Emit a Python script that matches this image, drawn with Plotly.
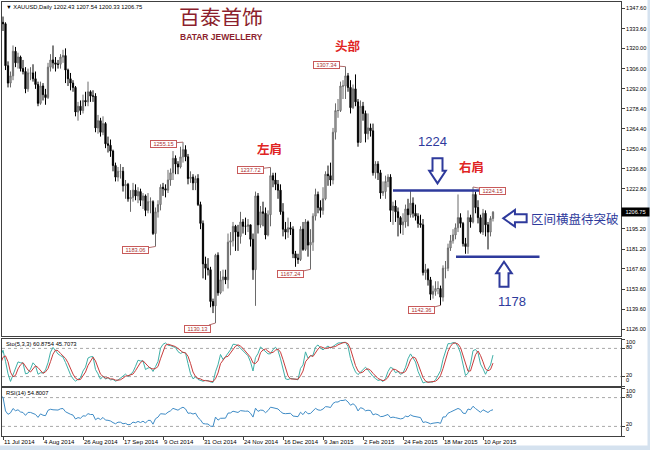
import numpy as np
import pandas as pd
import plotly.graph_objects as go

# ---------------- data ----------------
holidays = ["2014-12-25", "2015-01-01", "2015-04-03"]
all_days = pd.bdate_range("2014-06-02", "2015-04-16")
dates = [d for d in all_days if d.strftime("%Y-%m-%d") not in holidays]
N_PRE = 29  # bars before 11 Jul 2014 (indicator warm-up, off screen)

opens = [
    1250, 1244, 1244, 1244, 1252, 1252, 1253, 1260, 1261, 1274,
    1274, 1272, 1271, 1275, 1315, 1316, 1317, 1320, 1322, 1316,
    1317, 1327, 1326, 1326, 1320, 1319, 1317, 1317, 1325,
    1338, 1337, 1308, 1296, 1301, 1318, 1310, 1314, 1306, 1304,
    1292, 1303, 1303, 1299, 1295, 1282, 1294, 1288, 1286, 1307,
    1312, 1310, 1309, 1309, 1314, 1315, 1305, 1299, 1296, 1293,
    1276, 1280, 1277, 1284, 1283, 1290, 1287, 1287, 1265, 1270,
    1262, 1268, 1254, 1253, 1249, 1239, 1231, 1235, 1235, 1225,
    1226, 1216, 1217, 1222, 1218, 1221, 1215, 1218, 1208, 1214,
    1214, 1192, 1207, 1212, 1224, 1223, 1222, 1229, 1234, 1244,
    1240, 1238, 1245, 1250, 1245, 1230, 1231, 1227, 1230, 1212,
    1199, 1171, 1168, 1167, 1145, 1142, 1177, 1151, 1160, 1162,
    1160, 1186, 1187, 1197, 1193, 1190, 1200, 1197, 1197, 1198,
    1188, 1167, 1218, 1198, 1207, 1206, 1191, 1205, 1232, 1229,
    1226, 1222, 1207, 1195, 1193, 1196, 1195, 1178, 1175, 1174,
    1195, 1181, 1200, 1184, 1186, 1204, 1219, 1210, 1208, 1216,
    1233, 1232, 1229, 1262, 1277, 1277, 1294, 1294, 1301, 1293,
    1279, 1292, 1283, 1255, 1280, 1275, 1261, 1265, 1263, 1234,
    1240, 1234, 1220, 1221, 1228, 1231, 1208, 1211, 1207, 1203,
    1198, 1200, 1209, 1205, 1213, 1206, 1204, 1199, 1198, 1165,
    1167, 1160, 1150, 1152, 1154, 1154, 1148, 1168, 1168, 1182,
    1187, 1191, 1196, 1203, 1199, 1185, 1183, 1203, 1200, 1219,
    1210, 1203, 1193, 1206, 1198, 1193, 1202.43,
]
highs = [
    1253, 1248, 1248, 1256, 1256, 1256, 1264, 1265, 1275, 1280,
    1285, 1275, 1279, 1321, 1323, 1325, 1325, 1324, 1323, 1321,
    1328, 1332, 1331, 1332, 1322, 1324, 1324, 1327, 1345,
    1342, 1338, 1311, 1304, 1322, 1321, 1317, 1315, 1312, 1307,
    1306, 1307, 1309, 1304, 1297, 1297, 1296, 1292, 1310, 1316,
    1322, 1314, 1312, 1316, 1319, 1320, 1306, 1303, 1298, 1294,
    1283, 1284, 1288, 1290, 1297, 1291, 1291, 1289, 1274, 1272,
    1273, 1269, 1259, 1257, 1250, 1241, 1238, 1240, 1238, 1229,
    1227, 1222, 1227, 1226, 1224, 1223, 1220, 1219, 1220, 1217,
    1215, 1210, 1215, 1226, 1227, 1226, 1236, 1237, 1249, 1246,
    1242, 1252, 1255.15, 1253, 1247, 1235, 1233, 1232, 1233, 1214,
    1201, 1176, 1175, 1169, 1147, 1178, 1179, 1166, 1167, 1167,
    1192, 1193, 1200, 1198, 1198, 1207, 1202, 1203, 1202, 1198,
    1192, 1221, 1220, 1211, 1214, 1210, 1208, 1237.72, 1234, 1234,
    1229, 1226, 1213, 1200, 1203, 1200, 1197, 1180, 1178, 1197,
    1200, 1202, 1201, 1195, 1206, 1223, 1221, 1215, 1224, 1235,
    1239, 1241, 1265, 1282, 1285, 1297, 1298, 1307.34, 1303, 1298,
    1295, 1302, 1285, 1284, 1283, 1277, 1275, 1268, 1268, 1242,
    1242, 1236, 1228, 1232, 1233, 1233, 1214, 1215, 1210, 1204,
    1206, 1212, 1216, 1222, 1217, 1212, 1206, 1205, 1202, 1171,
    1168, 1162, 1156, 1159, 1159, 1156, 1170, 1173, 1185, 1191,
    1195, 1199, 1219, 1206, 1200, 1189, 1208, 1205, 1224.15, 1221,
    1215, 1205, 1209, 1208, 1200, 1204, 1207.54,
]
lows = [
    1241, 1240, 1240, 1240, 1247, 1248, 1251, 1257, 1259, 1270,
    1269, 1258, 1260, 1273, 1310, 1312, 1311, 1312, 1310, 1312,
    1313, 1321, 1323, 1311, 1316, 1310, 1312, 1315, 1320,
    1332, 1305, 1293, 1293, 1298, 1307, 1306, 1304, 1302, 1289,
    1290, 1298, 1297, 1292, 1280, 1281, 1284, 1281, 1285, 1304,
    1306, 1304, 1306, 1306, 1310, 1296, 1294, 1291, 1290, 1273,
    1270, 1274, 1275, 1280, 1280, 1283, 1283, 1262, 1261, 1259,
    1260, 1251, 1248, 1245, 1235, 1228, 1228, 1230, 1221, 1216,
    1214, 1207, 1214, 1215, 1213, 1211, 1209, 1204, 1206, 1206,
    1191, 1183.06, 1203, 1208, 1218, 1217, 1220, 1225, 1229, 1233,
    1233, 1237, 1241, 1242, 1226, 1227, 1222, 1222, 1211, 1195,
    1161, 1160, 1163, 1141, 1137, 1130.13, 1149, 1150, 1152, 1157,
    1154, 1177, 1183, 1180, 1180, 1185, 1192, 1191, 1193, 1183,
    1160, 1142, 1192, 1196, 1197, 1188, 1190, 1197, 1224, 1222,
    1216, 1205, 1190, 1188, 1189, 1191, 1175, 1169, 1171, 1173,
    1180, 1180, 1176, 1167.24, 1180, 1201, 1206, 1203, 1205, 1215,
    1225, 1225, 1226, 1257, 1272, 1276, 1285, 1285, 1290, 1275,
    1278, 1280, 1252, 1255, 1270, 1255, 1257, 1259, 1232, 1230,
    1229, 1216, 1218, 1216, 1224, 1200, 1198, 1200, 1190, 1192,
    1191, 1196, 1197, 1203, 1203, 1201, 1196, 1196, 1163, 1160,
    1156, 1146, 1147, 1149, 1150, 1142.36, 1145, 1161, 1166, 1180,
    1185, 1188, 1193, 1196, 1183, 1178, 1178, 1196, 1199, 1206,
    1199, 1192, 1191, 1190, 1181, 1190, 1200.33,
]
closes = [
    1244, 1244, 1244, 1252, 1252, 1253, 1260, 1261, 1274, 1274,
    1272, 1271, 1275, 1315, 1316, 1317, 1320, 1322, 1316, 1317,
    1327, 1326, 1326, 1320, 1319, 1317, 1317, 1325, 1338,
    1337, 1308, 1296, 1301, 1318, 1310, 1314, 1306, 1304, 1292,
    1303, 1303, 1299, 1295, 1282, 1294, 1288, 1286, 1307, 1312,
    1310, 1309, 1309, 1314, 1315, 1305, 1299, 1296, 1293, 1276,
    1280, 1277, 1284, 1283, 1290, 1287, 1287, 1265, 1270, 1262,
    1268, 1254, 1253, 1249, 1239, 1231, 1235, 1235, 1225, 1226,
    1216, 1217, 1222, 1218, 1221, 1215, 1218, 1208, 1214, 1214,
    1192, 1207, 1212, 1224, 1223, 1222, 1229, 1234, 1244, 1240,
    1238, 1245, 1250, 1245, 1230, 1231, 1227, 1230, 1212, 1199,
    1171, 1168, 1167, 1145, 1142, 1177, 1151, 1160, 1162, 1160,
    1186, 1187, 1197, 1193, 1190, 1200, 1197, 1197, 1198, 1188,
    1167, 1218, 1198, 1207, 1206, 1191, 1205, 1232, 1229, 1226,
    1222, 1207, 1195, 1193, 1196, 1195, 1178, 1175, 1174, 1195,
    1181, 1200, 1184, 1186, 1204, 1219, 1210, 1208, 1216, 1233,
    1232, 1229, 1262, 1277, 1277, 1294, 1294, 1301, 1293, 1279,
    1292, 1283, 1255, 1280, 1275, 1261, 1265, 1263, 1234, 1240,
    1234, 1220, 1221, 1228, 1231, 1208, 1211, 1207, 1203, 1198,
    1200, 1209, 1205, 1213, 1206, 1204, 1199, 1198, 1165, 1167,
    1160, 1150, 1152, 1154, 1154, 1148, 1168, 1168, 1182, 1187,
    1191, 1196, 1203, 1199, 1185, 1183, 1203, 1200, 1219, 1210,
    1203, 1193, 1206, 1198, 1193, 1202.43, 1206.75,
]
assert len(opens) == len(highs) == len(lows) == len(closes) == len(dates), (
    len(opens), len(highs), len(lows), len(closes), len(dates))

date_ticks = ["11 Jul 2014", "4 Aug 2014", "26 Aug 2014", "17 Sep 2014", "9 Oct 2014",
              "31 Oct 2014", "24 Nov 2014", "16 Dec 2014", "9 Jan 2015", "2 Feb 2015",
              "24 Feb 2015", "18 Mar 2015", "10 Apr 2015"]
price_ticks = [1347.60, 1333.60, 1320.00, 1306.00, 1292.00, 1278.40, 1264.40, 1250.40,
               1236.80, 1222.80, 1209.20, 1195.20, 1181.20, 1167.60, 1153.60, 1139.60, 1126.00]

# price labels: (date, price)
price_labels = [("2014-10-21", 1255.15), ("2014-10-06", 1183.06), ("2014-11-07", 1130.13),
                ("2014-12-09", 1237.72), ("2015-01-02", 1167.24), ("2015-01-22", 1307.34),
                ("2015-03-17", 1142.36), ("2015-04-06", 1224.15)]
label_offsets = [(-20, 1.5), (-20, 3.5), (-18, 5.5), (-20, 2.5), (-20, 4.5), (-19.5, -1.5),
                 (-19, 5), (19.5, 3.5)]

header = "▼ XAUUSD,Daily 1202.43 1207.54 1200.33 1206.75"
sto_title = "Sto(5,3,3) 60.8754 45.7073"
rsi_title = "RSI(14) 54.8007"
last_price = 1206.75
resistance_line = 1221.7
support_line = 1176.0

# ---------------- indicators ----------------
df = pd.DataFrame({"o": opens, "h": highs, "l": lows, "c": closes})
hh = df["h"].rolling(5).max()
ll = df["l"].rolling(5).min()
sto_k = 100 * (df["c"] - ll).rolling(3).sum() / (hh - ll).rolling(3).sum()
sto_d = sto_k.rolling(3).mean()
delta = df["c"].diff()
gain = delta.clip(lower=0)
loss = (-delta).clip(lower=0)
ag = gain.ewm(alpha=1 / 14, adjust=False).mean()
al = loss.ewm(alpha=1 / 14, adjust=False).mean()
rsi = 100 - 100 / (1 + ag / al)

xs = np.arange(len(dates)) - N_PRE
date_str = [d.strftime("%Y-%m-%d") for d in dates]
def pos_of(dstr):
    return date_str.index(dstr) - N_PRE

tick_pos = [pos_of(pd.to_datetime(t).strftime("%Y-%m-%d")) for t in date_ticks]
# the 1209.20 label sits under the current-price box
tick_text = ["" if abs(v - 1209.20) < 1e-6 else f"{v:.2f}" for v in price_ticks]

# ---------------- layout geometry ----------------
W, H = 650, 450
ML, MR, MT, MB = 2, 29, 2, 14
PW, PH = W - ML - MR, H - MT - MB
XR = [-0.4, 247.2]
YR = [1121.16, 1352.05]
def py(px):  # pixel y -> paper
    return (H - MB - px) / PH
dom_main = [py(336), 1.0]
dom_sto = [py(386), py(339)]
dom_rsi = [0.0, py(388)]
ppx = PW / (XR[1] - XR[0])
ppy = PH * (dom_main[1] - dom_main[0]) / (YR[1] - YR[0])

FONT = "Liberation Sans, Arial, sans-serif"
BLUE = "#2e3a9c"
RED = "#e02424"

fig = go.Figure()
fig.add_trace(go.Candlestick(
    x=xs, open=opens, high=highs, low=lows, close=closes,
    increasing=dict(line=dict(color="#6a6a6a", width=1), fillcolor="#c4c4c4"),
    decreasing=dict(line=dict(color="#000000", width=1), fillcolor="#000000"),
    whiskerwidth=0, showlegend=False, hoverinfo="skip", xaxis="x", yaxis="y"))
fig.add_trace(go.Scatter(x=xs, y=sto_k, mode="lines", line=dict(color="#3fb0a8", width=1),
                         xaxis="x2", yaxis="y2", showlegend=False, hoverinfo="skip"))
fig.add_trace(go.Scatter(x=xs, y=sto_d, mode="lines", line=dict(color="#c83c3c", width=1),
                         xaxis="x2", yaxis="y2", showlegend=False, hoverinfo="skip"))
fig.add_trace(go.Scatter(x=xs, y=rsi, mode="lines", line=dict(color="#3f8cc6", width=1),
                         xaxis="x3", yaxis="y3", showlegend=False, hoverinfo="skip"))

axis_common = dict(showline=True, mirror=True, linecolor="#404040", linewidth=1,
                   showgrid=False, zeroline=False, automargin=False)
fig.update_layout(
    width=W, height=H, margin=dict(l=ML, r=MR, t=MT, b=MB),
    paper_bgcolor="white", plot_bgcolor="white",
    font=dict(family=FONT, size=6, color="black"),
    xaxis=dict(domain=[0, 1], range=XR, anchor="y", showticklabels=False, ticks="",
               rangeslider=dict(visible=False), **axis_common),
    yaxis=dict(domain=dom_main, range=YR, side="right", anchor="x",
               tickvals=price_ticks, ticktext=tick_text,
               ticks="outside", ticklen=3, tickcolor="#404040",
               tickfont=dict(size=5.6, family=FONT), **axis_common),
    xaxis2=dict(domain=[0, 1], range=XR, anchor="y2", showticklabels=False, ticks="",
                **axis_common),
    yaxis2=dict(domain=dom_sto, range=[0, 100], side="right", anchor="x2",
                tickvals=[0, 20, 80, 100], showticklabels=False, ticks="outside",
                ticklen=3, tickcolor="#404040", **axis_common),
    xaxis3=dict(domain=[0, 1], range=XR, anchor="y3", tickvals=tick_pos,
                ticktext=date_ticks, ticks="outside", ticklen=3, tickcolor="#404040",
                ticklabelposition="outside right", tickangle=0,
                tickfont=dict(size=6, family=FONT), **axis_common),
    yaxis3=dict(domain=dom_rsi, range=[0, 100], side="right", anchor="x3",
                tickvals=[0, 20, 80, 100], showticklabels=False, ticks="outside",
                ticklen=3, tickcolor="#404040", **axis_common),
)

shapes = []
for lvl in (20, 80):
    for xr, yr in (("x2", "y2"), ("x3", "y3")):
        shapes.append(dict(type="line", xref=f"{xr} domain", yref=yr, x0=0, x1=1, y0=lvl, y1=lvl,
                           line=dict(color="#a8a8a8", width=1, dash="dot"), layer="below"))
# hand-drawn range lines
shapes.append(dict(type="line", xref="x", yref="y", x0=156, x1=192, y0=resistance_line,
                   y1=resistance_line, line=dict(color=BLUE, width=2.5)))
shapes.append(dict(type="line", xref="x", yref="y", x0=181.2, x1=214.6, y0=support_line,
                   y1=support_line, line=dict(color=BLUE, width=2.5)))

def arrow_path(tip_x, tip_y, direction, head_len, head_half, shaft_len, shaft_half):
    pts = [(0, 0), (head_len, head_half), (head_len, shaft_half),
           (head_len + shaft_len, shaft_half), (head_len + shaft_len, -shaft_half),
           (head_len, -shaft_half), (head_len, -head_half)]
    d = {"down": (0, 1), "up": (0, -1), "left": (-1, 0)}[direction]
    n = (-d[1], d[0])
    out = []
    for a, p in pts:
        sx = -a * d[0] + p * n[0]
        sy = -a * d[1] + p * n[1]
        out.append((tip_x + sx / ppx, tip_y - sy / ppy))
    return "M " + " L ".join(f"{x:.3f},{y:.3f}" for x, y in out) + " Z"

for tip, dirn, dims in (((173.8, 1226.7), "down", (12.6, 8.3, 12.4, 5)),
                        ((200.4, 1172.5), "up", (11.6, 7.8, 13.4, 4.5)),
                        ((200.1, 1202.5), "left", (11.7, 8.3, 11.7, 4))):
    shapes.append(dict(type="path", xref="x", yref="y",
                       path=arrow_path(tip[0], tip[1], dirn, *dims),
                       line=dict(color=BLUE, width=2), fillcolor="white"))
# light frame strips
shapes.append(dict(type="rect", xref="paper", yref="paper", x0=-0.01, x1=1.06,
                   y0=py(445.5), y1=py(452), fillcolor="#d5e2ef", line=dict(width=0)))
shapes.append(dict(type="rect", xref="paper", yref="paper", x0=(647.5 - ML) / PW, x1=(652 - ML) / PW,
                   y0=py(452), y1=py(-2), fillcolor="#d5e2ef", line=dict(width=0)))

ann = []
for (d, p), (ax, ay) in zip(price_labels, label_offsets):
    ann.append(dict(x=pos_of(d), y=p, xref="x", yref="y", text=f"{p:.2f}",
                    showarrow=True, arrowhead=0, arrowwidth=1, arrowcolor="#b06a6a",
                    ax=ax, ay=ay, standoff=0, startstandoff=0,
                    font=dict(size=5.6, color="#a83232", family=FONT),
                    bgcolor="white", bordercolor="#c85a5a", borderwidth=1, borderpad=0,
                    width=25, height=6))
# chart text
ann += [
    dict(x=(4 - ML) / PW, y=py(6.5), xref="paper", yref="paper", text=header, showarrow=False,
         xanchor="left", yanchor="middle", font=dict(size=5.8, family=FONT, color="black")),
    dict(x=(4 - ML) / PW, y=py(344), xref="paper", yref="paper", text=sto_title, showarrow=False,
         xanchor="left", yanchor="middle", font=dict(size=5.8, family=FONT, color="black")),
    dict(x=(4 - ML) / PW, y=py(392.5), xref="paper", yref="paper", text=rsi_title, showarrow=False,
         xanchor="left", yanchor="middle", font=dict(size=5.8, family=FONT, color="black")),
    dict(x=(221 - ML) / PW, y=py(16), xref="paper", yref="paper", text="百泰首饰", showarrow=False,
         xanchor="center", yanchor="middle", height=20,
         font=dict(size=21, family="Noto Sans CJK SC", color="#8c1f2e")),
    dict(x=(221 - ML) / PW, y=py(36), xref="paper", yref="paper", text="<b>BATAR JEWELLERY</b>",
         xanchor="center", yanchor="middle", height=9,
         showarrow=False, font=dict(size=8.5, family=FONT, color="#8c1f2e")),
    dict(x=1, y=last_price, xref="paper", yref="y", text=f"{last_price:.2f}", showarrow=False,
         xanchor="left", yanchor="middle", bgcolor="black", width=27, height=8, borderpad=0,
         font=dict(size=5.6, family=FONT, color="white")),
]
CJK = "Noto Sans CJK SC"
for txt, x, y, col, size, bold in (("头部", 137.8, 1322.3, RED, 12.5, True),
                                    ("左肩", 106.6, 1251.1, RED, 12.5, True),
                                    ("右肩", 187.2, 1238.0, RED, 12.5, True),
                                    ("1224", 171.8, 1255.3, BLUE, 13, False),
                                    ("1178", 203.6, 1144.7, BLUE, 13, False)):
    ann.append(dict(x=x, y=y, xref="x", yref="y", text=f"<b>{txt}</b>" if bold else txt,
                    showarrow=False, xanchor="center", yanchor="middle",
                    font=dict(size=size, family=CJK if not txt.isdigit() else FONT, color=col)))
ann.append(dict(x=210.4, y=1202.7, xref="x", yref="y", text="区间横盘待突破", showarrow=False,
                xanchor="left", yanchor="middle", font=dict(size=12.5, family=CJK, color=BLUE)))
# indicator level labels
for yref, items in (("y2", ((100, -3.2), (80, 1.0), (20, 1.6), (0, 5.8))),
                    ("y3", ((100, -2.8), (80, 1.5), (20, 2.2), (0, 7.4)))):
    for v, ys in items:
        ann.append(dict(x=1, y=v, xref="paper", yref=yref, text=str(v), showarrow=False,
                        xanchor="left", yanchor="middle", xshift=3, yshift=ys,
                        font=dict(size=5.6, family=FONT, color="black")))

fig.update_layout(shapes=shapes, annotations=ann)
fig.write_html("out.html", config={"displayModeBar": False},
               post_script="document.body.style.margin='0px';")
